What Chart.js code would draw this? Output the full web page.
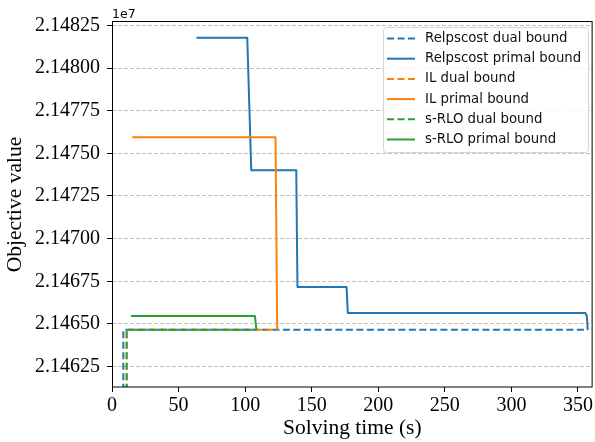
<!DOCTYPE html>
<html>
<head>
<meta charset="utf-8">
<script src="https://cdn.jsdelivr.net/npm/chart.js@4/dist/chart.umd.min.js"></script>
<style>
  html, body { margin: 0; padding: 0; background: #ffffff; }
  #wrap { width: 595px; height: 442px; }
</style>
</head>
<body>
<div id="wrap"><canvas id="c" width="595" height="442"></canvas></div>
<script>
// Bound traces over solving time: time in seconds, objective value
const seriesNames = [
  'Relpscost dual bound', 'Relpscost primal bound',
  'IL dual bound', 'IL primal bound',
  's-RLO dual bound', 's-RLO primal bound'
];

const relpDualT   = [8.5, 8.5, 357.3];
const relpDualV   = [21458000, 21464650, 21464650];
const relpPrimalT = [63.4, 101.6, 104.6, 138.4, 139.3, 176.2, 177.1, 355.6, 356.7, 357.3];
const relpPrimalV = [21481780, 21481780, 21474010, 21474010, 21467170, 21467170, 21465640, 21465640, 21465450, 21464650];

const ilDualT   = [11.0, 11.0, 124.1];
const ilDualV   = [21458000, 21464650, 21464650];
const ilPrimalT = [15.2, 122.8, 124.1];
const ilPrimalV = [21475940, 21475940, 21464650];

const rloDualT   = [11.0, 11.0, 108.5];
const rloDualV   = [21458000, 21464650, 21464650];
const rloPrimalT = [14.2, 107.3, 108.5];
const rloPrimalV = [21465470, 21465470, 21464650];

const xTicks = [0, 50, 100, 150, 200, 250, 300, 350];
const yTicks = [21462500, 21465000, 21467500, 21470000, 21472500, 21475000, 21477500, 21480000, 21482500];

const BLUE = '#1f77b4', ORANGE = '#ff7f0e', GREEN = '#2ca02c';
const DASH = [7, 3.5];

function pts(ts, vs) { return ts.map((t, i) => ({ x: t, y: vs[i] })); }

const traces = [
  { t: relpDualT,   v: relpDualV,   color: BLUE,   dash: DASH },
  { t: relpPrimalT, v: relpPrimalV, color: BLUE,   dash: [] },
  { t: ilDualT,     v: ilDualV,     color: ORANGE, dash: DASH },
  { t: ilPrimalT,   v: ilPrimalV,   color: ORANGE, dash: [] },
  { t: rloDualT,    v: rloDualV,    color: GREEN,  dash: DASH },
  { t: rloPrimalT,  v: rloPrimalV,  color: GREEN,  dash: [] }
];

const datasets = traces.map((s, i) => ({
  label: seriesNames[i],
  data: pts(s.t, s.v),
  borderColor: s.color,
  backgroundColor: s.color,
  borderDash: s.dash,
  borderWidth: 2,
  borderJoinStyle: 'round',
  pointRadius: 0,
  tension: 0,
  fill: false,
  order: traces.length - i   // later traces are painted on top
}));

const serif = "'Liberation Serif', 'Times New Roman', serif";
const sans = "'DejaVu Sans', sans-serif";

// Frame, exponent label and the boxed legend
const decor = {
  id: 'decor',
  afterDraw(chart) {
    const { ctx, chartArea: a } = chart;
    ctx.save();
    ctx.setLineDash([]);
    ctx.strokeStyle = '#000';
    ctx.lineWidth = 1;
    ctx.strokeRect(a.left + 0.5, a.top - 0.5, a.right - a.left - 1, a.bottom - a.top + 0.5);

    ctx.fillStyle = '#000';
    ctx.font = '12.5px ' + sans;
    ctx.textAlign = 'left';
    ctx.textBaseline = 'alphabetic';
    ctx.fillText('1e7', a.left, 17.5);

    // legend box
    const bx = 383.5, by = 27.5, bw = 205, bh = 125, r = 3;
    ctx.beginPath();
    ctx.moveTo(bx + r, by);
    ctx.arcTo(bx + bw, by, bx + bw, by + bh, r);
    ctx.arcTo(bx + bw, by + bh, bx, by + bh, r);
    ctx.arcTo(bx, by + bh, bx, by, r);
    ctx.arcTo(bx, by, bx + bw, by, r);
    ctx.closePath();
    ctx.fillStyle = 'rgba(255,255,255,0.8)';
    ctx.fill();
    ctx.strokeStyle = '#d6d6d6';
    ctx.stroke();

    ctx.font = '13.3px ' + sans;
    ctx.textBaseline = 'middle';
    chart.data.datasets.forEach((ds, i) => {
      const cy = 38.5 + i * 20.2;
      ctx.beginPath();
      ctx.setLineDash(ds.borderDash);
      ctx.strokeStyle = ds.borderColor;
      ctx.lineWidth = 2;
      ctx.moveTo(387, cy);
      ctx.lineTo(415, cy);
      ctx.stroke();
      ctx.setLineDash([]);
      ctx.fillStyle = '#111';
      ctx.fillText(ds.label, 425, cy);
    });
    ctx.restore();
  }
};

new Chart(document.getElementById('c'), {
  type: 'line',
  data: { datasets },
  options: {
    responsive: false,
    animation: false,
    devicePixelRatio: 1,
    layout: { padding: { top: 22, right: 1, left: 0, bottom: 0 } },
    plugins: { legend: { display: false }, tooltip: { enabled: false } },
    scales: {
      x: {
        type: 'linear',
        min: 0,
        max: 361,
        afterBuildTicks: s => { s.ticks = xTicks.map(v => ({ value: v })); },
        afterFit: s => { s.height = 55; },
        grid: { drawOnChartArea: false, drawTicks: true, tickLength: 5, tickColor: '#000', tickWidth: 1 },
        border: { display: false },
        ticks: { color: '#000', font: { family: serif, size: 20 }, padding: 2, maxRotation: 0 },
        title: { display: true, text: 'Solving time (s)', color: '#000', font: { family: serif, size: 21.5 }, padding: { top: 0, bottom: 1 } }
      },
      y: {
        type: 'linear',
        min: 21461300,
        max: 21482700,
        afterBuildTicks: s => { s.ticks = yTicks.map(v => ({ value: v })); },
        afterFit: s => { s.width = 112; },
        grid: { color: '#c0c0c0', lineWidth: 1, drawTicks: true, tickLength: 5, tickColor: '#000', tickWidth: 1 },
        border: { display: false, dash: [4, 2] },
        ticks: {
          color: '#000', font: { family: serif, size: 20 }, padding: 7,
          callback: v => (v / 1e7).toFixed(5)
        },
        title: { display: true, text: 'Objective value', color: '#000', font: { family: serif, size: 21.5 }, padding: { top: 2, bottom: 0 } }
      }
    }
  },
  plugins: [decor]
});
</script>
</body>
</html>
